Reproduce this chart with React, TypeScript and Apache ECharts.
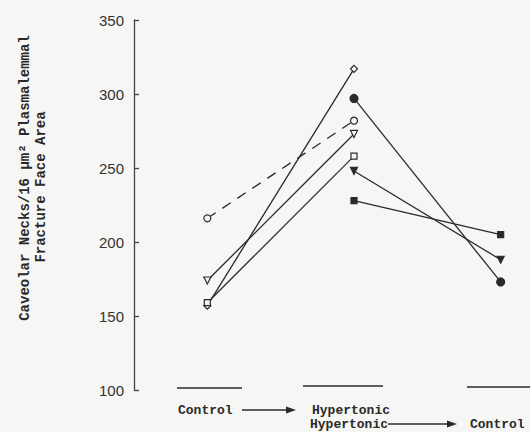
import React, { useEffect, useRef } from "react";
import * as echarts from "echarts";

// x positions: 0 = Control, 1 = Hypertonic, 2 = Control (after hypertonic)
const yTicks = [100, 150, 200, 250, 300, 350];
const openDiamond = [[0, 157], [1, 317]];
const filledCircle = [[1, 297], [2, 173]];
const openCircleDashed = [[0, 216], [1, 282]];
const openTriangle = [[0, 174], [1, 273]];
const openSquare = [[0, 159], [1, 258]];
const filledTriangle = [[1, 248], [2, 188]];
const filledSquare = [[1, 228], [2, 205]];

const ink = "#2a2a2a";
const bg = "#f6f6f4";
const mono = "'Liberation Mono', 'DejaVu Sans Mono', monospace";

export default function App() {
  const ref = useRef<HTMLDivElement>(null);
  useEffect(() => {
    const chart = echarts.init(ref.current!, null, { renderer: "svg" });
    const lineSeries = (
      data: number[][],
      symbol: string,
      filled: boolean,
      size: number,
      rotate = 0,
      dashed = false
    ) => ({
      type: "line",
      data,
      symbol,
      symbolSize: size,
      symbolRotate: rotate,
      showAllSymbol: true,
      lineStyle: { color: ink, width: 1.3, type: dashed ? [10, 8] : "solid" },
      itemStyle: { color: filled ? ink : bg, borderColor: ink, borderWidth: 1.2 },
      z: 3,
    });
    const labelStyle = { fill: ink, font: `bold 13px ${mono}` };
    chart.setOption({
      animation: false,
      backgroundColor: bg,
      grid: { left: 134, right: 0, top: 20, bottom: 42 },
      xAxis: {
        type: "value",
        min: -0.5,
        max: 2.2,
        show: false,
      },
      yAxis: {
        type: "value",
        min: yTicks[0],
        max: yTicks[yTicks.length - 1],
        interval: 50,
        axisLine: { show: true, onZero: false, lineStyle: { color: "#444", width: 1.3 } },
        axisTick: { show: true, inside: true, length: 5, lineStyle: { color: "#444", width: 1.3 } },
        axisLabel: { color: "#333", fontSize: 15, margin: 10, fontFamily: "'Liberation Sans', Arial, sans-serif" },
        splitLine: { show: false },
      },
      series: [
        lineSeries(openDiamond, "diamond", false, 7),
        lineSeries(filledCircle, "circle", true, 8),
        lineSeries(openCircleDashed, "circle", false, 7, 0, true),
        lineSeries(openTriangle, "triangle", false, 7, 180),
        lineSeries(openSquare, "rect", false, 6),
        lineSeries(filledTriangle, "triangle", true, 7, 180),
        lineSeries(filledSquare, "rect", true, 6),
      ],
      graphic: [
        // y axis title
        {
          type: "text",
          x: 25,
          y: 178,
          rotation: Math.PI / 2,
          style: {
            text: "Caveolar Necks/16 \u00b5m\u00b2 Plasmalemmal",
            fill: ink,
            font: `bold 14px ${mono}`,
            textAlign: "center",
            textVerticalAlign: "middle",
          },
        },
        {
          type: "text",
          x: 41,
          y: 187,
          rotation: Math.PI / 2,
          style: {
            text: "Fracture Face Area",
            fill: ink,
            font: `bold 14px ${mono}`,
            textAlign: "center",
            textVerticalAlign: "middle",
          },
        },
        // baseline marks
        { type: "line", shape: { x1: 177, y1: 388, x2: 242, y2: 388 }, style: { stroke: ink, lineWidth: 1.5 } },
        { type: "line", shape: { x1: 303, y1: 386, x2: 383, y2: 386 }, style: { stroke: ink, lineWidth: 1.5 } },
        { type: "line", shape: { x1: 467, y1: 387, x2: 530, y2: 387 }, style: { stroke: ink, lineWidth: 1.5 } },
        // bottom labels
        { type: "text", x: 178, y: 410, style: { ...labelStyle, text: "Control", textVerticalAlign: "middle" } },
        { type: "line", shape: { x1: 242, y1: 410, x2: 292, y2: 410 }, style: { stroke: ink, lineWidth: 1.3 } },
        { type: "polygon", shape: { points: [[296, 410], [286, 406.5], [286, 413.5]] }, style: { fill: ink } },
        { type: "text", x: 312, y: 410, style: { ...labelStyle, text: "Hypertonic", textVerticalAlign: "middle" } },
        { type: "text", x: 310, y: 424, style: { ...labelStyle, text: "Hypertonic", textVerticalAlign: "middle" } },
        { type: "line", shape: { x1: 388, y1: 424, x2: 452, y2: 424 }, style: { stroke: ink, lineWidth: 1.3 } },
        { type: "polygon", shape: { points: [[457, 424], [447, 420.5], [447, 427.5]] }, style: { fill: ink } },
        { type: "text", x: 470, y: 424, style: { ...labelStyle, text: "Control", textVerticalAlign: "middle" } },
      ],
    });
    return () => chart.dispose();
  }, []);
  return (
    <div
      ref={ref}
      style={{ position: "fixed", left: 0, top: 0, width: 530, height: 432 }}
    />
  );
}
